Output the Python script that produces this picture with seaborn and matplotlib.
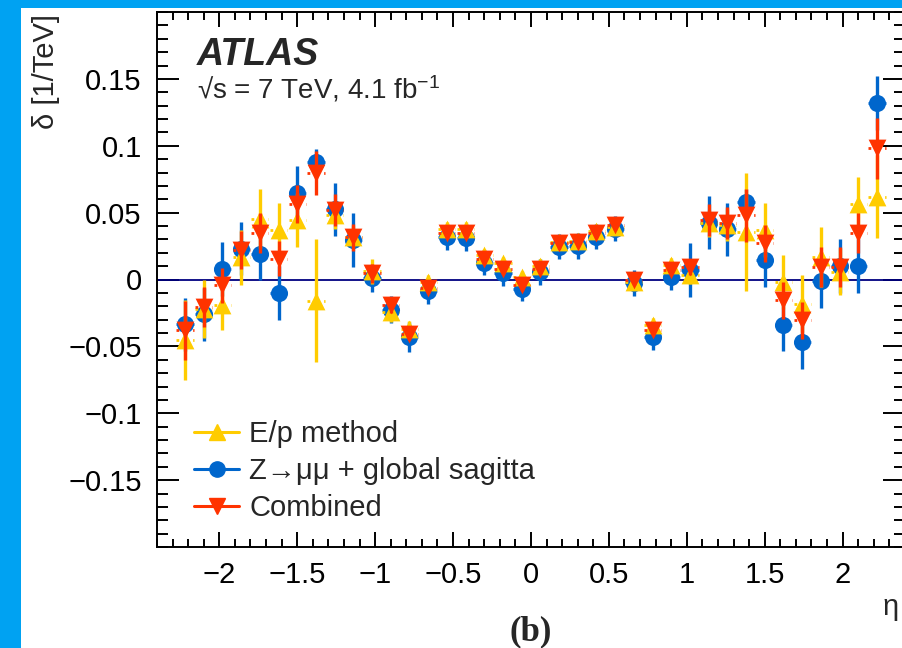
import numpy as np
import pandas as pd
import matplotlib
matplotlib.use("Agg")
import matplotlib.pyplot as plt
from matplotlib.lines import Line2D
from matplotlib.patches import Rectangle
from matplotlib.ticker import MultipleLocator
import seaborn as sns

# ---------------- data ----------------
eta = [-2.22, -2.10, -1.98, -1.86, -1.74, -1.62, -1.50, -1.38, -1.26, -1.14,
       -1.02, -0.90, -0.78, -0.66, -0.54, -0.42, -0.30, -0.18, -0.06, 0.06,
       0.18, 0.30, 0.42, 0.54, 0.66, 0.78, 0.90, 1.02, 1.14, 1.26,
       1.38, 1.50, 1.62, 1.74, 1.86, 1.98, 2.10, 2.22]
eta_halfwidth = [0.055] * 38

ep_val = [-0.045, -0.022, -0.019, 0.0165, 0.0455, 0.037, 0.0445, -0.016, 0.048, 0.032,
          0.006, -0.024, -0.037, -0.002, 0.038, 0.038, 0.018, 0.012, 0.0015, 0.010,
          0.028, 0.029, 0.036, 0.039, -0.002, -0.034, 0.011, 0.003, 0.042, 0.041,
          0.0357, 0.037, -0.002, -0.018, 0.017, 0.0057, 0.0565, 0.062]
ep_err = [0.030, 0.022, 0.019, 0.0205, 0.022, 0.020, 0.020, 0.046, 0.010, 0.008,
          0.009, 0.008, 0.006, 0.005, 0.005, 0.005, 0.005, 0.005, 0.005, 0.005,
          0.005, 0.005, 0.005, 0.005, 0.005, 0.005, 0.005, 0.006, 0.010, 0.012,
          0.044, 0.020, 0.020, 0.021, 0.0225, 0.0175, 0.020, 0.031]

z_val = [-0.0335, -0.026, 0.0077, 0.023, 0.019, -0.010, 0.065, 0.0877, 0.0525, 0.0295,
         0.0008, -0.0225, -0.043, -0.0085, 0.0315, 0.0307, 0.0125, 0.005, -0.0068, 0.0057,
         0.0245, 0.025, 0.032, 0.038, -0.0025, -0.043, 0.002, 0.007, 0.0425, 0.0375,
         0.0577, 0.0145, -0.0337, -0.0468, -0.001, 0.010, 0.010, 0.132]
z_err = [0.020, 0.020, 0.020, 0.020, 0.019, 0.020, 0.020, 0.010, 0.020, 0.020,
         0.010, 0.010, 0.011, 0.0095, 0.0095, 0.0095, 0.0095, 0.0095, 0.0095, 0.0095,
         0.0095, 0.0095, 0.0095, 0.0095, 0.0095, 0.0095, 0.0095, 0.020, 0.020, 0.020,
         0.010, 0.020, 0.020, 0.020, 0.020, 0.020, 0.020, 0.020]

comb_val = [-0.038, -0.0205, -0.0043, 0.022, 0.035, 0.0155, 0.0565, 0.0795, 0.052, 0.0315,
            0.0045, -0.0193, -0.0405, -0.006, 0.0345, 0.0345, 0.0157, 0.008, -0.0043, 0.008,
            0.027, 0.028, 0.035, 0.0407, 0.0, -0.038, 0.007, 0.0095, 0.0445, 0.0425,
            0.048, 0.027, -0.0155, -0.0305, 0.0095, 0.0093, 0.035, 0.098]
comb_err = [0.022, 0.015, 0.013, 0.014, 0.015, 0.013, 0.014, 0.0165, 0.012, 0.010,
            0.007, 0.006, 0.005, 0.004, 0.004, 0.004, 0.004, 0.004, 0.004, 0.004,
            0.004, 0.004, 0.004, 0.004, 0.004, 0.004, 0.004, 0.006, 0.012, 0.012,
            0.020, 0.014, 0.014, 0.014, 0.015, 0.015, 0.015, 0.023]

labels = ["E/p method", "Z\u2192\u03bc\u03bc + global sagitta", "Combined"]
xticks = [-2, -1.5, -1, -0.5, 0, 0.5, 1, 1.5, 2]
xtick_labels = ["\u22122", "\u22121.5", "\u22121", "\u22120.5", "0", "0.5", "1", "1.5", "2"]
yticks = [-0.15, -0.1, -0.05, 0, 0.05, 0.1, 0.15]
ytick_labels = ["\u22120.15", "\u22120.1", "\u22120.05", "0", "0.05", "0.1", "0.15"]

# ---------------- style ----------------
sns.set_style("ticks")
plt.rcParams["font.family"] = ["Liberation Sans", "DejaVu Sans"]
plt.rcParams["mathtext.default"] = "regular"

C_EP = "#FFCC00"
C_Z = "#0066CC"
C_COMB = "#FF3300"

df = pd.DataFrame({"eta": eta, "xw": eta_halfwidth,
                   "ep": ep_val, "ep_err": ep_err,
                   "z": z_val, "z_err": z_err,
                   "comb": comb_val, "comb_err": comb_err})

fig = plt.figure(figsize=(9.03, 6.48), dpi=100)
fig.patch.set_facecolor("white")
# blue frame strips (left and top) of the original page
fig.patches.append(Rectangle((0, 0), 21 / 903, 1, transform=fig.transFigure,
                             facecolor="#00A2F2", edgecolor="none", zorder=-10))
fig.patches.append(Rectangle((0, 1 - 8 / 648), 1, 8 / 648, transform=fig.transFigure,
                             facecolor="#00A2F2", edgecolor="none", zorder=-10))

ax = fig.add_axes([157 / 903, 1 - 547 / 648, (905 - 157) / 903, (547 - 12) / 648])
ax.set_facecolor("white")

ax.axhline(0, color="#000080", lw=1.3, zorder=1)

series = [("z", "z_err", C_Z, "o", 12.3, 3),
          ("ep", "ep_err", C_EP, "^", 12.8, 5),
          ("comb", "comb_err", C_COMB, "v", 12.8, 7)]
for col, ecol, c, m, ms, z in series:
    eb = ax.errorbar(df["eta"], df[col], yerr=df[ecol], xerr=df["xw"], fmt="none",
                     ecolor=c, elinewidth=2.4, capsize=0, zorder=z)
    # horizontal bars: dotted (only their ends peek out of the markers)
    eb[2][0].set_linestyle((0, (1, 2)))
    eb[2][0].set_linewidth(2.0)
    sns.scatterplot(data=df, x="eta", y=col, marker=m, s=ms ** 2, color=c,
                    linewidth=0, ax=ax, zorder=z + 1, legend=False)

ax.set_xlim(-2.4, 2.4)
ax.set_ylim(-0.2, 0.2)
ax.set_xticks(xticks)
ax.set_xticklabels(xtick_labels)
ax.set_yticks(yticks)
ax.set_yticklabels(ytick_labels)
ax.xaxis.set_minor_locator(MultipleLocator(0.1))
ax.yaxis.set_minor_locator(MultipleLocator(0.01))

for s in ax.spines.values():
    s.set_linewidth(1.4)
    s.set_color("black")

ax.tick_params(axis="both", which="both", direction="in", top=True, right=True,
               width=1.4, color="black", labelsize=21, labelcolor="black")
ax.tick_params(axis="x", which="major", length=11, pad=10)
ax.tick_params(axis="x", which="minor", length=5.5)
ax.tick_params(axis="y", which="major", length=16, pad=11)
ax.tick_params(axis="y", which="minor", length=8)

ax.set_xlabel("\u03b7", fontsize=21)
ax.xaxis.set_label_coords((883 - 157) / 748, (547 - 615) / 535)
ax.xaxis.label.set_ha("left")
ax.xaxis.label.set_va("baseline")

ax.set_ylabel("\u03b4 [1/TeV]", fontsize=21, loc="top")
ax.yaxis.set_label_coords((60 - 157) / 748, (547 - 14) / 535)

ax.text((197 - 157) / 748, (547 - 65) / 535, "ATLAS", transform=ax.transAxes,
        fontsize=27, fontweight="bold", fontstyle="italic", va="baseline", ha="left")
ax.text((197 - 157) / 748, (547 - 99) / 535, "\u221as = 7 TeV, 4.1 fb$^{-1}$",
        transform=ax.transAxes, fontsize=20, va="baseline", ha="left")

ax.text(0.5, (547 - 640) / 535, "(b)", transform=ax.transAxes, fontsize=25,
        fontweight="bold", family=["Liberation Serif", "DejaVu Serif"],
        ha="center", va="baseline")

handles = [Line2D([], [], color=C_EP, marker="^", markersize=12, lw=2.2),
           Line2D([], [], color=C_Z, marker="o", markersize=11, lw=2.2),
           Line2D([], [], color=C_COMB, marker="v", markersize=12, lw=2.2)]
ax.legend(handles, labels, loc="upper left",
          bbox_to_anchor=((194 - 157) / 748, (547 - 420) / 535),
          frameon=False, fontsize=21, handlelength=1.55, handletextpad=0.35,
          labelspacing=0.31, borderaxespad=0, borderpad=0)

fig.savefig("out.png", dpi=100, facecolor=fig.get_facecolor())
